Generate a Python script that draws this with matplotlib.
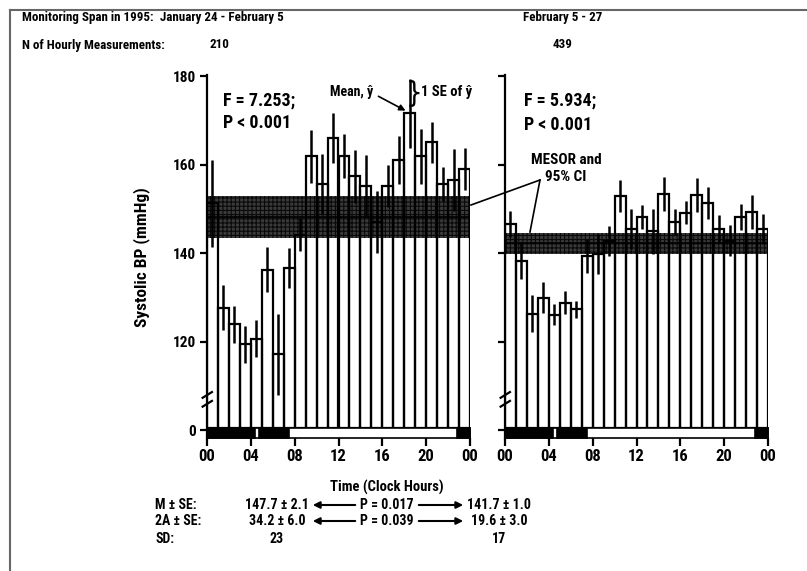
import matplotlib.pyplot as plt
import matplotlib.patches as mpatches
from matplotlib.lines import Line2D
import numpy as np

plt.rcParams['font.family'] = ['Roboto Condensed', 'DejaVu Sans Condensed', 'Liberation Sans Narrow',
                               'Liberation Sans', 'DejaVu Sans']
plt.rcParams['font.stretch'] = 'condensed'
plt.rcParams['font.weight'] = 'bold'
plt.rcParams['hatch.linewidth'] = 0.8

W, H = 807, 571

# datos (media horaria y SE)
hours = np.arange(24)
jan_mean = [151.3, 127.7, 123.9, 119.4, 120.7, 136.3, 117.1, 136.7, 144.2, 161.9, 155.7, 166.1,
            161.9, 157.4, 155.2, 147.0, 155.2, 161.0, 171.6, 161.9, 165.1, 155.6, 156.5, 159.0]
jan_se = [9.8, 5.1, 4.2, 4.2, 4.1, 5.1, 9.2, 4.5, 3.8, 6.0, 6.8, 5.7,
          5.0, 6.0, 6.9, 7.0, 4.7, 5.4, 7.9, 6.3, 4.6, 3.8, 7.0, 4.7]
feb_mean = [146.6, 138.3, 126.3, 129.9, 126.1, 128.8, 127.3, 139.4, 139.8, 142.8, 152.9, 145.5,
            148.2, 145.0, 153.4, 147.1, 149.1, 153.2, 151.4, 145.5, 142.8, 148.2, 149.3, 145.5]
feb_se = [3.0, 4.2, 4.2, 3.5, 2.3, 2.6, 2.0, 3.9, 4.5, 3.4, 3.6, 4.5,
          2.8, 5.1, 3.9, 2.9, 2.6, 3.8, 3.6, 3.2, 3.5, 3.0, 3.8, 3.4]
jan_mesor, jan_ci = 148.2, 4.7
feb_mesor, feb_ci = 142.2, 2.4

yticks = [100, 120, 140, 160, 180]
yticklabels = ["0", "120", "140", "160", "180"]
xticks = [0, 4, 8, 12, 16, 20, 24]
xticklabels = ["00", "04", "08", "12", "16", "20", "00"]
dark_spans = [(0, 4.4), (4.7, 7.5), (22.8, 24)]

base = 100.5      # la escala esta cortada: "0" se dibuja en 100
ybot, ytop = 98.3, 180.3


def fx(x):
    return x / W


def fy(y):
    return 1 - y / H


fig = plt.figure(figsize=(W / 100, H / 100), dpi=100)
ax1 = fig.add_axes([fx(207), fy(437.6), 263 / W, 362.6 / H])
ax2 = fig.add_axes([fx(505), fy(437.6), 263 / W, 362.6 / H])


def panel(ax, mean, se, mesor, ci, labels):
    mean = np.array(mean)
    ax.set_xlim(0, 24)
    ax.set_ylim(ybot, ytop)
    band = mpatches.Rectangle((0, mesor - ci), 24, 2 * ci, facecolor='#3a3a3a',
                              edgecolor='#0a0a0a', hatch='++++', lw=0, zorder=1)
    ax.add_patch(band)
    ax.plot([0, 24], [mesor, mesor], color='black', lw=1.2, zorder=2)
    ax.bar(hours, mean - base, bottom=base, width=1, align='edge', facecolor='none',
           edgecolor='black', lw=1.6, zorder=3)
    ax.errorbar(hours + 0.5, mean, yerr=se, fmt='none', ecolor='black',
                elinewidth=1.8, capsize=0, zorder=4)
    ax.add_patch(mpatches.Rectangle((0, ybot), 24, base - ybot, facecolor='white',
                                    edgecolor='black', lw=1.2, zorder=5, clip_on=False))
    for a, b in dark_spans:
        ax.add_patch(mpatches.Rectangle((a, ybot), b - a, base - ybot, facecolor='black',
                                        edgecolor='black', lw=1.2, zorder=6, clip_on=False))
    for s in ['top', 'right', 'bottom']:
        ax.spines[s].set_visible(False)
    ax.spines['left'].set_linewidth(1.6)
    ax.spines['left'].set_zorder(7)
    ax.set_yticks(yticks)
    if labels:
        ax.set_yticklabels(yticklabels)
    else:
        ax.set_yticklabels([])
    ax.set_xticks(xticks)
    ax.set_xticklabels(xticklabels)
    ax.tick_params(axis='y', direction='out', length=5, width=1.6, pad=3, labelsize=11)
    ax.tick_params(axis='x', direction='out', length=6, width=1.6, pad=2, labelsize=12)
    # marca de corte del eje
    for dy in [0, 2.0]:
        ax.plot([-0.4, 0.45], [105.3 + dy, 106.6 + dy], color='black', lw=1.6,
                clip_on=False, zorder=8)
    ax.set_facecolor('none')


panel(ax1, jan_mean, jan_se, jan_mesor, jan_ci, True)
panel(ax2, feb_mean, feb_se, feb_mesor, feb_ci, False)

# marco de la imagen
fig.add_artist(Line2D([fx(10), fx(10)], [fy(10), 0], color='#666666', lw=1.5))
fig.add_artist(Line2D([fx(10), 1], [fy(10), fy(10)], color='#666666', lw=1.5))

fs = 9.4
fig.text(fx(22), fy(17), "Monitoring Span in 1995:", fontsize=fs, va='center')
fig.text(fx(222), fy(17), "January 24 - February 5", fontsize=fs, va='center', ha='center')
fig.text(fx(563), fy(17), "February 5 - 27", fontsize=fs, va='center', ha='center')
fig.text(fx(22), fy(45), "N of Hourly Measurements:", fontsize=fs, va='center')
fig.text(fx(219), fy(45), "210", fontsize=fs, va='center', ha='center')
fig.text(fx(563), fy(45), "439", fontsize=fs, va='center', ha='center')

fig.text(fx(142), fy(257), "Systolic BP (mmHg)", fontsize=12.5, va='center', ha='center',
         rotation=90)

fig.text(fx(223), fy(101), "F = 7.253;", fontsize=13, va='center')
fig.text(fx(223), fy(123), "P < 0.001", fontsize=13, va='center')
fig.text(fx(524), fy(101), "F = 5.934;", fontsize=13, va='center')
fig.text(fx(524), fy(125), "P < 0.001", fontsize=13, va='center')

fig.text(fx(330), fy(92), "Mean, ŷ", fontsize=10, va='center')
fig.add_artist(mpatches.FancyArrowPatch((fx(376), fy(95)), (fx(408), fy(112)),
                                        transform=fig.transFigure, arrowstyle='-|>',
                                        mutation_scale=9, color='black', lw=1.2))
fig.text(fx(414), fy(94), "}", fontsize=21, va='center', ha='center',
         family='DejaVu Sans', fontweight='normal')
fig.text(fx(421), fy(92), "1 SE of ŷ", fontsize=10.5, va='center')

fig.text(fx(566), fy(160), "MESOR and", fontsize=11, va='center', ha='center')
fig.text(fx(566), fy(177), "95% CI", fontsize=11, va='center', ha='center')
fig.add_artist(Line2D([fx(540), fx(471)], [fy(180), fy(205)], color='black', lw=1.2))
fig.add_artist(Line2D([fx(540), fx(530)], [fy(180), fy(232)], color='black', lw=1.2))

fig.text(fx(387), fy(487), "Time (Clock Hours)", fontsize=10.5, va='center', ha='center')

rows = [("M ± SE:", "147.7 ± 2.1", "P = 0.017", "141.7 ± 1.0", 505),
        ("2A ± SE:", "34.2 ± 6.0", "P = 0.039", "19.6 ± 3.0", 521),
        ("SD:", "23", "", "17", 539)]
for lab, v1, p, v2, y in rows:
    fig.text(fx(155), fy(y), lab, fontsize=10, va='center')
    fig.text(fx(277), fy(y), v1, fontsize=10, va='center', ha='center')
    fig.text(fx(499), fy(y), v2, fontsize=10, va='center', ha='center')
    if p:
        fig.text(fx(387), fy(y), p, fontsize=10, va='center', ha='center')
        fig.add_artist(mpatches.FancyArrowPatch((fx(358), fy(y)), (fx(310), fy(y)),
                                                transform=fig.transFigure, arrowstyle='-|>',
                                                mutation_scale=10, color='black', lw=1.5))
        fig.add_artist(mpatches.FancyArrowPatch((fx(416), fy(y)), (fx(466), fy(y)),
                                                transform=fig.transFigure, arrowstyle='-|>',
                                                mutation_scale=10, color='black', lw=1.5))

fig.savefig("out.png", dpi=100)
